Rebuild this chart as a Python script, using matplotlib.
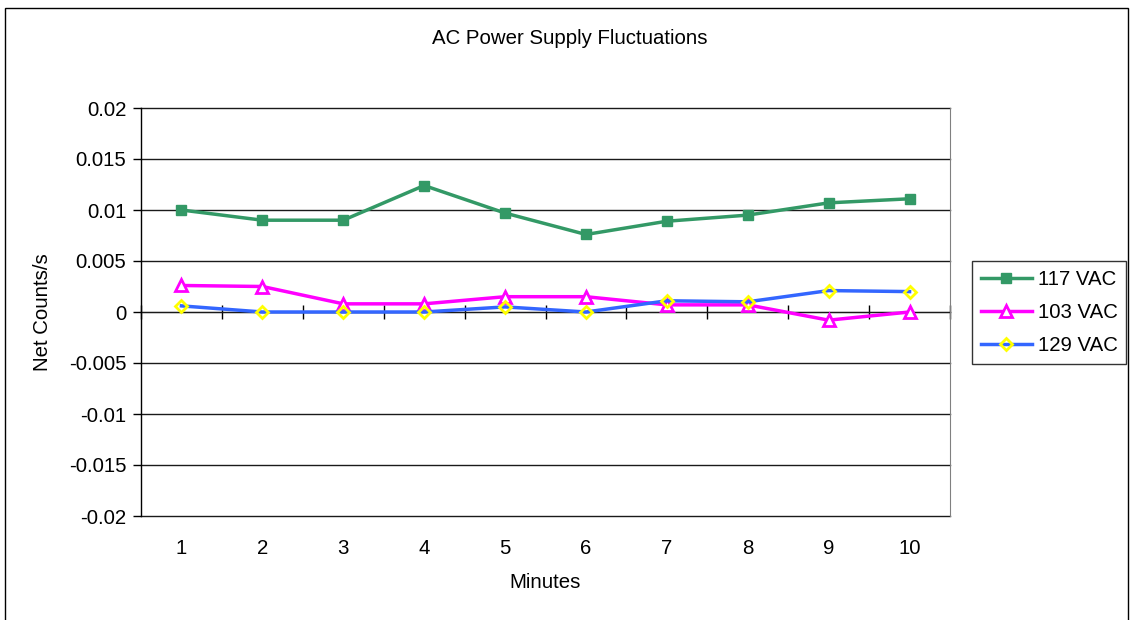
import matplotlib
matplotlib.use("Agg")
import matplotlib.pyplot as plt
from matplotlib.patches import Rectangle

plt.rcParams['font.family'] = ['Liberation Sans', 'DejaVu Sans']

minutes = [1, 2, 3, 4, 5, 6, 7, 8, 9, 10]
vac_117 = [0.0100, 0.0090, 0.0090, 0.0124, 0.0097, 0.0076, 0.0089, 0.0095, 0.0107, 0.0111]
vac_103 = [0.0026, 0.0025, 0.0008, 0.0008, 0.0015, 0.0015, 0.0007, 0.0007, -0.0008, 0.0000]
vac_129 = [0.0006, 0.0000, 0.0000, 0.0000, 0.0005, 0.0000, 0.0011, 0.0010, 0.0021, 0.0020]
y_ticks = [-0.02, -0.015, -0.01, -0.005, 0, 0.005, 0.01, 0.015, 0.02]
y_tick_labels = ['-0.02', '-0.015', '-0.01', '-0.005', '0', '0.005', '0.01', '0.015', '0.02']

W, H = 1130, 620
fig = plt.figure(figsize=(W / 100, H / 100), dpi=100)
fs = 14.7

# plot area in pixel terms
left, right, top, bottom = 141, 950, 108, 516
ax = fig.add_axes([left / W, 1 - bottom / H, (right - left) / W, (bottom - top) / H])

# outer chart border
fig.patches.append(Rectangle((4.5 / W, -0.01), (1127.5 - 4.5) / W, 1 - 7.5 / H + 0.01,
                             transform=fig.transFigure, fill=False,
                             edgecolor='black', linewidth=1.0))

ax.set_xlim(0.5, 10.5)
ax.set_ylim(-0.02, 0.02)

# horizontal gridlines
for v in y_ticks:
    ax.axhline(v, color='#1a1a1a', linewidth=1.0, zorder=1, clip_on=False)

ax.plot(minutes, vac_117, color='#339966', linewidth=2.5, marker='s',
        markersize=6.8, markerfacecolor='#339966', markeredgecolor='#339966',
        label='117 VAC', zorder=3)
ax.plot(minutes, vac_103, color='#FF00FF', linewidth=2.5, marker='^',
        markersize=8, markerfacecolor='white', markeredgecolor='#FF00FF',
        markeredgewidth=2.0, label='103 VAC', zorder=4)
ax.plot(minutes, vac_129, color='#3366FF', linewidth=2.5, marker='D',
        markersize=6.2, markerfacecolor='none', markeredgecolor='#FFFF00',
        markeredgewidth=2.0, label='129 VAC', zorder=5)

# spines
ax.spines['left'].set_color('black')
ax.spines['left'].set_linewidth(1.0)
ax.spines['right'].set_color('#808080')
ax.spines['top'].set_visible(False)
ax.spines['bottom'].set_visible(False)

# y axis
ax.set_yticks(y_ticks)
ax.set_yticklabels(y_tick_labels)
ax.tick_params(axis='y', direction='out', length=5.5, width=1.0, pad=5,
               labelsize=fs, color='black')

# category labels below the plot area
ax.set_xticks(minutes)
ax.set_xticklabels([str(m) for m in minutes])
ax.tick_params(axis='x', length=0, pad=16.5, labelsize=fs)

# category axis crossing at zero with boundary ticks
sec = ax.secondary_xaxis(0.5)
sec.set_xticks([m - 0.5 for m in minutes] + [10.5])
sec.tick_params(axis='x', direction='inout', length=10, width=1.0,
                labelbottom=False, labeltop=False, color='black')
sec.spines['bottom'].set_color('black')
sec.spines['bottom'].set_linewidth(1.0)

ax.set_title('AC Power Supply Fluctuations', fontsize=fs, pad=0,
             x=(570 - left) / (right - left),
             y=(top - 38) / (bottom - top) + 1, va='center')
ax.set_xlabel('Minutes', fontsize=fs, va='center')
ax.xaxis.set_label_coords(0.5, (bottom - 582) / (bottom - top))
ax.set_ylabel('Net Counts/s', fontsize=fs, va='center')
ax.yaxis.set_label_coords((43 - left) / (right - left), 0.5)

leg = fig.legend(loc='center left', bbox_to_anchor=(972 / W, 1 - 312.5 / H),
                 fontsize=fs, frameon=True, fancybox=False, edgecolor='black',
                 handlelength=2.5, handletextpad=0.3, borderpad=0.42,
                 labelspacing=0.7, borderaxespad=0)
leg.get_frame().set_linewidth(1.0)

fig.savefig('out.png', dpi=100, facecolor='white')
